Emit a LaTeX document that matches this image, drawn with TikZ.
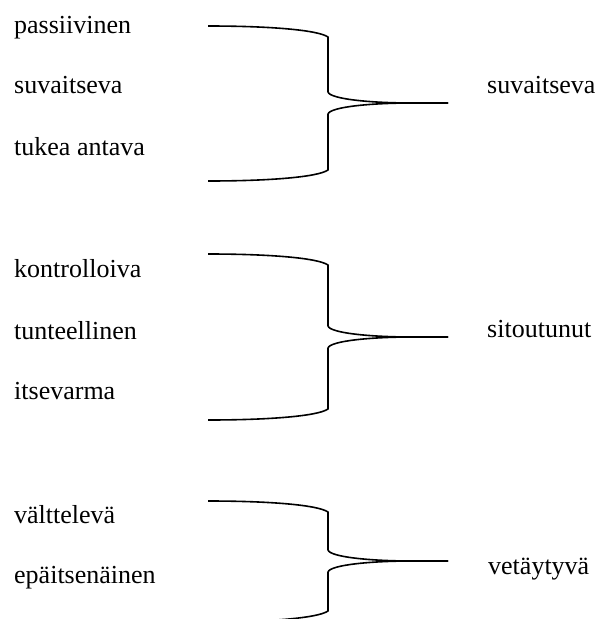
\documentclass[tikz,border=0pt]{standalone}
\usepackage{fontspec}
\setmainfont{Liberation Serif}

% kaareva sulku: #1 ylareuna, #2 karki, #3 alareuna
\newcommand{\sulku}[3]{%
  \draw[sulkuviiva] (208,#1) .. controls (270,#1) and (318,#1+4) .. (328,#1+11)
    -- (328,#2-11) .. controls (330,#2-4) and (370,#2) .. (412,#2) -- (448,#2);
  \draw[sulkuviiva] (448,#2) -- (412,#2) .. controls (370,#2) and (330,#2+4) .. (328,#2+11)
    -- (328,#3-11) .. controls (318,#3-4) and (270,#3) .. (208,#3);
}

\begin{document}
\begin{tikzpicture}[x=1pt, y=-1pt,
    sana/.style={anchor=base west, inner sep=0pt, font=\fontsize{26}{30}\selectfont},
    sulkuviiva/.style={line width=1.6pt, line join=round}]
                \useasboundingbox (0,0) rectangle (595,619);

                \node[sana] (p1) at (14,33) {passiivinen};
                \node[sana] (p2) at (14,93) {suvaitseva};
                \node[sana] (p3) at (14,155) {tukea antava};
                \node[sana] (t1) at (487,93) {suvaitseva};

                \node[sana] (p4) at (14,277) {kontrolloiva};
                \node[sana] (p5) at (14,339) {tunteellinen};
                \node[sana] (p6) at (14,399) {itsevarma};
                \node[sana] (t2) at (487,337) {sitoutunut};

                \node[sana] (p7) at (14,523) {välttelevä};
                \node[sana] (p8) at (14,583) {epäitsenäinen};
                \node[sana] (t3) at (488,574) {vetäytyvä};

                \sulku{26}{103}{181}
                \sulku{254}{337}{420}
                \sulku{501}{561}{622}
            \end{tikzpicture}
\end{document}
